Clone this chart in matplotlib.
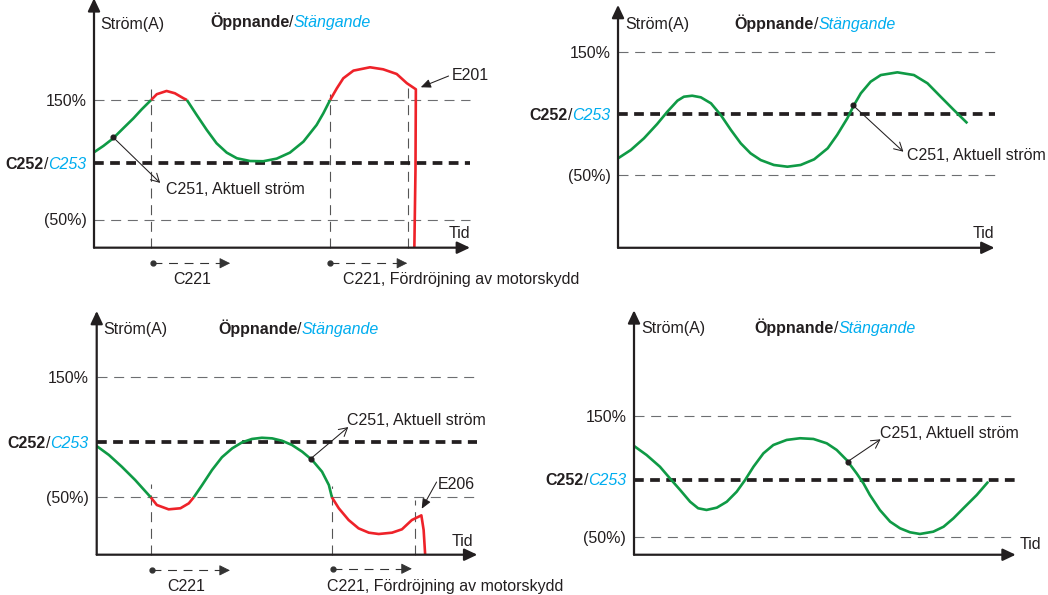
import matplotlib
matplotlib.use('Agg')
import matplotlib.pyplot as plt

plt.rcParams['font.family'] = ['Liberation Sans', 'DejaVu Sans']

# ---------------- data ----------------
LEVEL_HIGH = 150          # "150%"
LEVEL_LOW = 50            # "(50%)"
T_END = 10                # end of time axis

# Panel 1 (top-left): current goes above 150 % -> E201
p1_limit = 97
p1_green_a_t = [0.0, 0.25, 0.50, 0.78, 1.05, 1.27, 1.52]
p1_green_a_i = [106.3, 111.6, 117.7, 126.4, 134.7, 142.2, 150]
p1_red_a_t = [1.52, 1.67, 1.93, 2.15, 2.38, 2.47]
p1_red_a_i = [150, 154.8, 157.5, 155.6, 151.4, 150]
p1_green_b_t = [2.47, 2.73, 3.0, 3.26, 3.53, 3.80, 4.15, 4.50, 4.86, 5.21, 5.57, 5.92, 6.10, 6.28]
p1_green_b_i = [150, 137.5, 124.9, 113.8, 106, 101.3, 99, 98.8, 101, 106, 115.2, 129.1, 138.9, 150]
p1_red_b_t = [6.28, 6.46, 6.63, 6.90, 7.34, 7.69, 8.05, 8.32, 8.56, 8.55, 8.52]
p1_red_b_i = [150, 159.8, 168.1, 174.5, 177.3, 175.6, 171.7, 164, 158.9, 92, 26.6]
p1_marks_t = [1.52, 6.28, 8.34]
p1_marks_top = [159, 155, 165]
p1_delays = [(1.56, 3.62), (6.28, 8.33)]

# Panel 2 (top-right): normal operation
p2_limit = 100
p2_t = [0.0, 0.34, 0.69, 1.04, 1.31, 1.58, 1.75, 1.97, 2.20, 2.47, 2.73, 3.0, 3.26, 3.52, 3.79, 4.14,
        4.5, 4.85, 5.21, 5.57, 5.82, 6.09, 6.27, 6.45, 6.71, 6.98, 7.42, 7.86, 8.22, 8.57, 8.92, 9.28]
p2_i = [63.8, 70.6, 80.1, 91.7, 101.7, 110.7, 113.9, 114.7, 113.4, 108.5, 99, 86.8, 76, 67.9, 62.4, 58.4,
        57, 58.4, 63, 72, 82.8, 96.3, 107.2, 116.7, 126.1, 131.5, 133.7, 131.5, 124.8, 113.9, 103.1, 92.3]

# Panel 3 (bottom-left): current goes below 50 % -> E206
p3_limit = 96
p3_green_a_t = [0.0, 0.32, 0.66, 1.01, 1.42]
p3_green_a_i = [92.6, 85.2, 75.4, 64.4, 50]
p3_red_a_t = [1.42, 1.58, 1.89, 2.20, 2.42, 2.55]
p3_red_a_i = [50, 43.6, 40, 40.9, 45, 50]
p3_green_b_t = [2.55, 2.77, 3.03, 3.29, 3.56, 3.82, 4.08, 4.34, 4.61, 4.87, 5.13, 5.40, 5.66, 5.92, 6.10, 6.18]
p3_green_b_i = [50, 60.2, 72.7, 83.3, 90.7, 95.7, 98.5, 99.5, 99, 97, 93.5, 87.9, 81, 71.3, 60.2, 50]
p3_red_b_t = [6.18, 6.36, 6.62, 6.88, 7.15, 7.41, 7.76, 8.02, 8.28, 8.53, 8.59, 8.63]
p3_red_b_i = [50, 40.9, 31.1, 24.2, 20.6, 19.5, 20.6, 23.4, 31.1, 35, 22.8, 2.3]
p3_marks_t = [1.42, 6.17, 8.36]
p3_marks_top = [61, 59, 48]
p3_delays = [(1.45, 3.5), (6.2, 8.28)]

# Panel 4 (bottom-right): normal operation
p4_limit = 97.5
p4_t = [0.0, 0.33, 0.68, 0.94, 1.21, 1.47, 1.68, 1.90, 2.17, 2.43, 2.69, 2.91, 3.13, 3.39, 3.65, 4.0, 4.35,
        4.70, 5.05, 5.31, 5.57, 5.83, 6.01, 6.18, 6.44, 6.71, 6.97, 7.23, 7.49, 7.84, 8.11, 8.37, 8.63, 8.98, 9.28]
p4_i = [125.4, 117.9, 108.2, 98.6, 88.9, 79.2, 73.8, 72.4, 74.3, 79.2, 87.5, 97.2, 108.2, 119.3, 126.2, 130.4,
        131.8, 131.2, 127.6, 122.1, 113.8, 102.8, 94.5, 84.8, 72.4, 62.7, 57.2, 53.9, 52.5, 54.4, 58.5, 65.5,
        73.8, 84.8, 95.8]

# texts
TXT_Y = "Ström(A)"
TXT_X = "Tid"
TXT_OPEN = "Öppnande"
TXT_CLOSE = "Stängande"
TXT_C252 = "C252"
TXT_C253 = "C253"
TXT_HIGH = "150%"
TXT_LOW = "(50%)"
TXT_C251 = "C251, Aktuell ström"
TXT_C221 = "C221"
TXT_C221_LONG = "C221, Fördröjning av motorskydd"

# ---------------- style ----------------
W, H = 1048, 595
FS = 11.5
CAPC = 0.716 * FS * 100 / 72 / 2
C_TXT = '#231f20'
C_CYAN = '#00adef'
C_GREEN = '#0f9a45'
C_RED = '#ee2229'
C_GRID = '#6d6e71'
C_VERT = '#555555'

fig = plt.figure(figsize=(W / 100, H / 100), dpi=100)
renderer = fig.canvas.get_renderer()


def make_ax(px, py, pw, ph, xlim, ylim):
    ax = fig.add_axes([px / W, 1 - (py + ph) / H, pw / W, ph / H])
    ax.set_xlim(*xlim)
    ax.set_ylim(*ylim)
    ax.axis('off')
    return ax


def text(ax, x, y, s, ha='left', **kw):
    return ax.annotate(s, (x, y), xytext=(0, -CAPC), textcoords='offset pixels', ha=ha,
                       va='baseline', fontsize=FS, color=kw.pop('color', C_TXT),
                       annotation_clip=False, **kw)


def rich(ax, x, y, pieces, ha='left'):
    objs = [text(ax, x, y, s, **kw) for s, kw in pieces]
    widths = [o.get_window_extent(renderer).width for o in objs]
    cum = -sum(widths) if ha == 'right' else 0
    for o, w in zip(objs, widths):
        o.xyann = (cum, -CAPC)
        cum += w


def frame(ax, base, top, limit, label_x):
    ax.annotate('', xy=(T_END, base), xytext=(0, base), annotation_clip=False,
                arrowprops=dict(arrowstyle='-|>,head_length=0.55,head_width=0.26', lw=1.6,
                                color=C_TXT, shrinkA=0, shrinkB=0, mutation_scale=14))
    ax.annotate('', xy=(0, top), xytext=(0, base), annotation_clip=False,
                arrowprops=dict(arrowstyle='-|>,head_length=0.55,head_width=0.26', lw=1.6,
                                color=C_TXT, shrinkA=0, shrinkB=0, mutation_scale=14))
    for lev in (LEVEL_HIGH, LEVEL_LOW):
        ax.plot([0, T_END], [lev, lev], color=C_GRID, lw=0.8, dashes=(9, 6), clip_on=False)
    ax.plot([0, T_END], [limit, limit], color=C_TXT, lw=2.7, dashes=(2.6, 1.7), clip_on=False)
    text(ax, label_x, LEVEL_HIGH, TXT_HIGH, ha='right')
    text(ax, label_x, LEVEL_LOW, TXT_LOW, ha='right')
    rich(ax, label_x, limit, [(TXT_C252, dict(fontweight='bold')), ('/', {}),
                              (TXT_C253, dict(style='italic', color=C_CYAN))], ha='right')


def header(ax, sx, sy, tx, ty):
    text(ax, sx, sy, TXT_Y)
    rich(ax, tx, ty, [(TXT_OPEN, dict(fontweight='bold')), ('/', {}),
                      (TXT_CLOSE, dict(style='italic', color=C_CYAN))])


def curve(ax, t, i, color):
    ax.plot(t, i, color=color, lw=1.9, solid_joinstyle='round', solid_capstyle='butt', clip_on=False)


def pointer(ax, dot, end, tpos, s=TXT_C251):
    ax.plot(*dot, 'o', ms=3.4, color=C_TXT, clip_on=False)
    ax.annotate('', xy=end, xytext=dot, annotation_clip=False,
                arrowprops=dict(arrowstyle='->,head_length=0.45,head_width=0.25', lw=0.75,
                                color=C_TXT, shrinkA=0, shrinkB=0, mutation_scale=13))
    text(ax, tpos[0], tpos[1], s)


def err(ax, start, end, tpos, s):
    ax.annotate('', xy=end, xytext=start, annotation_clip=False,
                arrowprops=dict(arrowstyle='-|>,head_length=0.5,head_width=0.22', lw=0.75,
                                color=C_TXT, shrinkA=0, shrinkB=0, mutation_scale=12))
    text(ax, tpos[0], tpos[1], s)


def marks(ax, ts, tops, base):
    for t, top in zip(ts, tops):
        ax.plot([t, t], [base, top], color=C_VERT, lw=0.8, dashes=(9, 6), clip_on=False)


def delay(ax, t0, t1, y):
    ax.plot([t0, t1 - 0.15], [y, y], color='#333333', lw=0.8, dashes=(8, 6), clip_on=False)
    ax.plot(t0, y, 'o', ms=3.5, color='#333333', clip_on=False)
    ax.annotate('', xy=(t1, y), xytext=(t1 - 0.2, y), annotation_clip=False,
                arrowprops=dict(arrowstyle='-|>,head_length=0.6,head_width=0.3', lw=0.6,
                                color='#333333', shrinkA=0, shrinkB=0, mutation_scale=11))


# ---------------- panel 1 ----------------
ax1 = make_ax(0, 0, 524, 297, (-2.5, 11.436), (-14.6, 233.5))
p1_base = 26.6
marks(ax1, p1_marks_t, p1_marks_top, p1_base)
frame(ax1, p1_base, 235, p1_limit, -0.2)
header(ax1, 0.16, 214, 3.09, 215.4)
curve(ax1, p1_green_a_t, p1_green_a_i, C_GREEN)
curve(ax1, p1_red_a_t, p1_red_a_i, C_RED)
curve(ax1, p1_green_b_t, p1_green_b_i, C_GREEN)
curve(ax1, p1_red_b_t, p1_red_b_i, C_RED)
text(ax1, T_END, 39.7, TXT_X, ha='right')
pointer(ax1, (0.51, 118.8), (1.76, 80.7), (1.91, 75.9))
err(ax1, (9.43, 170), (8.69, 160.6), (9.51, 171.7), 'E201')
for t0, t1 in p1_delays:
    delay(ax1, t0, t1, 13.6)
text(ax1, 2.6, 1.0, TXT_C221, ha='center')
text(ax1, 6.63, 1.0, TXT_C221_LONG)

# ---------------- panel 2 ----------------
ax2 = make_ax(524, 0, 524, 297, (-2.497, 11.421), (-48.9, 192.5))
frame(ax2, -8.9, 188.5, p2_limit, -0.2)
header(ax2, 0.19, 173.6, 3.1, 173.6)
curve(ax2, p2_t, p2_i, C_GREEN)
text(ax2, T_END, 3.7, TXT_X, ha='right')
pointer(ax2, (6.24, 107), (7.58, 69.2), (7.67, 67))

# ---------------- panel 3 ----------------
ax3 = make_ax(0, 297, 524, 298, (-2.541, 11.227), (-31.2, 216.5))
p3_base = 2.3
marks(ax3, p3_marks_t, p3_marks_top, p3_base)
frame(ax3, p3_base, 204.9, p3_limit, -0.21)
header(ax3, 0.17, 190.2, 3.19, 190.2)
curve(ax3, p3_green_a_t, p3_green_a_i, C_GREEN)
curve(ax3, p3_red_a_t, p3_red_a_i, C_RED)
curve(ax3, p3_green_b_t, p3_green_b_i, C_GREEN)
curve(ax3, p3_red_b_t, p3_red_b_i, C_RED)
text(ax3, 9.9, 14.3, TXT_X, ha='right')
pointer(ax3, (5.62, 82), (6.61, 108.4), (6.57, 114.5))
err(ax3, (8.93, 62.7), (8.54, 40.5), (8.95, 61.9), 'E206')
delay(ax3, p3_delays[0][0], p3_delays[0][1], -10.7)
delay(ax3, p3_delays[1][0], p3_delays[1][1], -9.4)
text(ax3, 2.36, -23.2, TXT_C221, ha='center')
text(ax3, 6.04, -23.2, TXT_C221_LONG)

# ---------------- panel 4 ----------------
ax4 = make_ax(524, 297, 524, 298, (-2.882, 10.846), (1.95, 248.8))
frame(ax4, 35.3, 237.8, p4_limit, -0.2)
header(ax4, 0.19, 223.4, 3.16, 224)
curve(ax4, p4_t, p4_i, C_GREEN)
text(ax4, 10.09, 44.4, TXT_X)
pointer(ax4, (5.6, 112.5), (6.46, 130.9), (6.44, 137))

fig.savefig('out.png', dpi=100)
